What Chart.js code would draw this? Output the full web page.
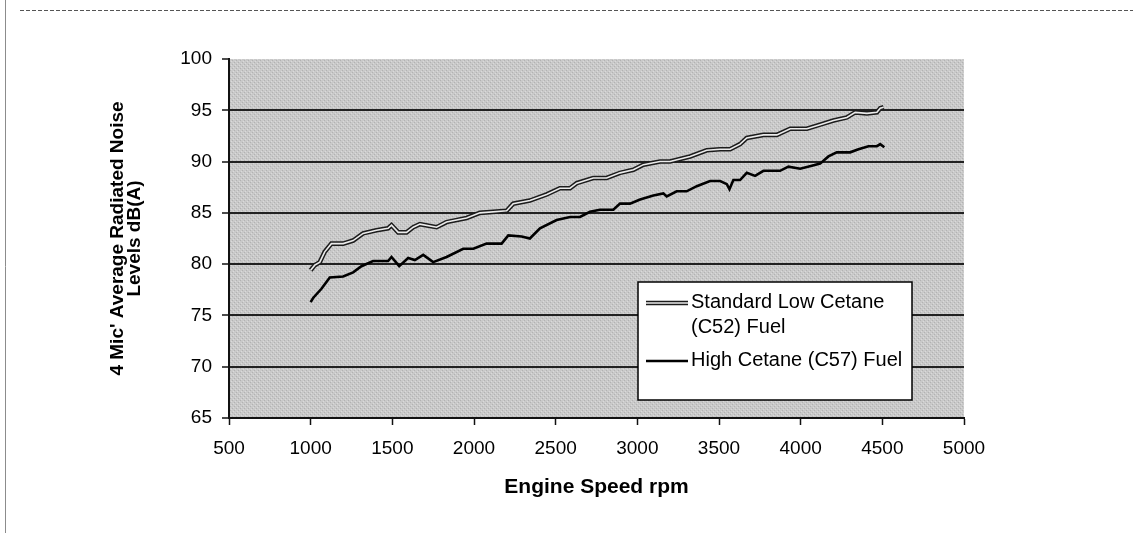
<!DOCTYPE html>
<html>
<head>
<meta charset="utf-8">
<script src="https://cdn.jsdelivr.net/npm/chart.js@4.4.1/dist/chart.umd.min.js"></script>
<style>
    html, body { margin: 0; padding: 0; background: #fff; }
    #wrap { position: relative; width: 1133px; height: 533px; }
</style>
</head>
<body>
<div id="wrap"><canvas id="graficoRuido" width="1133" height="533"></canvas></div>
<script>
// Standard Low Cetane (C52) Fuel
const rpmLowCetane = [1000, 1025, 1056, 1086, 1127, 1199, 1260, 1321, 1403, 1474, 1495, 1536, 1587, 1628, 1669, 1771, 1832, 1955, 2036, 2200,
    2240, 2342, 2445, 2526, 2588, 2629, 2730, 2812, 2894, 2976, 3037, 3139, 3200, 3323, 3425, 3507, 3568, 3629, 3670, 3772,
    3854, 3936, 4038, 4119, 4201, 4283, 4334, 4406, 4467, 4487, 4508];
const noiseLowCetane = [79.4, 79.9, 80.2, 81.2, 82.0, 82.0, 82.3, 83.0, 83.3, 83.5, 83.8, 83.1, 83.1, 83.6, 83.9, 83.6, 84.1, 84.5, 85.0, 85.2,
    85.9, 86.2, 86.8, 87.4, 87.4, 87.9, 88.4, 88.4, 88.9, 89.2, 89.7, 90.0, 90.0, 90.5, 91.1, 91.2, 91.2, 91.7, 92.3, 92.6,
    92.6, 93.2, 93.2, 93.6, 94.0, 94.3, 94.8, 94.7, 94.8, 95.2, 95.3];

// High Cetane (C57) Fuel
const rpmHighCetane = [1000, 1015, 1066, 1117, 1199, 1260, 1311, 1382, 1474, 1495, 1542, 1597, 1638, 1689, 1750, 1832, 1934, 1996, 2077, 2169,
    2210, 2292, 2342, 2404, 2506, 2588, 2649, 2710, 2771, 2853, 2894, 2955, 3017, 3098, 3159, 3180, 3241, 3302, 3364, 3445,
    3507, 3548, 3564, 3588, 3629, 3670, 3721, 3772, 3874, 3925, 3997, 4068, 4119, 4170, 4221, 4303, 4354, 4415, 4467, 4487, 4512];
const noiseHighCetane = [76.3, 76.7, 77.6, 78.7, 78.8, 79.2, 79.8, 80.3, 80.3, 80.7, 79.8, 80.6, 80.4, 80.9, 80.2, 80.7, 81.5, 81.5, 82.0, 82.0,
    82.8, 82.7, 82.5, 83.5, 84.3, 84.6, 84.6, 85.1, 85.3, 85.3, 85.9, 85.9, 86.3, 86.7, 86.9, 86.6, 87.1, 87.1, 87.6, 88.1,
    88.1, 87.8, 87.3, 88.2, 88.2, 88.9, 88.6, 89.1, 89.1, 89.5, 89.3, 89.6, 89.8, 90.5, 90.9, 90.9, 91.2, 91.5, 91.5, 91.7, 91.4];

// Axis ranges / ticks
const xRange = [500, 5000];
const xStep = 500;
const yRange = [65, 100];
const yStep = 5;

const xTitle = 'Engine Speed rpm';
const yTitle = ["4 Mic' Average Radiated Noise", 'Levels dB(A)'];
const legendLow = ['Standard Low Cetane', '(C52) Fuel'];
const legendHigh = 'High Cetane (C57) Fuel';

const FONT = '"Liberation Sans", Arial, sans-serif';

function toPoints(xs, ys) {
    return xs.map((x, i) => ({ x: x, y: ys[i] }));
}

// grey stippled plot background, like the old spreadsheet fill
function stipple(ctx) {
    const c = document.createElement('canvas');
    c.width = 4;
    c.height = 4;
    const p = c.getContext('2d');
    p.fillStyle = '#c9c9c9';
    p.fillRect(0, 0, 4, 4);
    p.fillStyle = '#b2b2b2';
    p.fillRect(0, 0, 1, 1);
    p.fillRect(2, 2, 1, 1);
    p.fillStyle = '#dadada';
    p.fillRect(1, 3, 1, 1);
    p.fillRect(3, 1, 1, 1);
    return ctx.createPattern(c, 'repeat');
}

const plotBackground = {
    id: 'plotBackground',
    beforeDraw(chart) {
        const { ctx, chartArea: a } = chart;
        ctx.save();
        ctx.fillStyle = stipple(ctx);
        ctx.fillRect(a.left, a.top, a.right - a.left, a.bottom - a.top);
        ctx.restore();
    }
};

// page frame: dashed line on top, solid line on the left
const pageFrame = {
    id: 'pageFrame',
    afterDraw(chart) {
        const ctx = chart.ctx;
        ctx.save();
        ctx.strokeStyle = '#8c8c8c';
        ctx.lineWidth = 1;
        ctx.beginPath();
        ctx.moveTo(5.5, 0);
        ctx.lineTo(5.5, 533);
        ctx.stroke();
        ctx.strokeStyle = '#555';
        ctx.setLineDash([4, 2]);
        ctx.beginPath();
        ctx.moveTo(20, 10.5);
        ctx.lineTo(1133, 10.5);
        ctx.stroke();
        ctx.restore();
    }
};

// legend box drawn inside the plot
const legendBox = {
    id: 'legendBox',
    afterDraw(chart) {
        const ctx = chart.ctx;
        const box = { x: 638, y: 282, w: 274, h: 118 };
        ctx.save();
        ctx.fillStyle = '#fff';
        ctx.fillRect(box.x, box.y, box.w, box.h);
        ctx.strokeStyle = '#000';
        ctx.lineWidth = 1.5;
        ctx.strokeRect(box.x, box.y, box.w, box.h);

        // double line sample
        ctx.lineCap = 'butt';
        ctx.strokeStyle = '#1c1c1c';
        ctx.lineWidth = 4.6;
        ctx.beginPath();
        ctx.moveTo(646, 303);
        ctx.lineTo(688, 303);
        ctx.stroke();
        ctx.strokeStyle = '#ececec';
        ctx.lineWidth = 1.6;
        ctx.beginPath();
        ctx.moveTo(646, 303);
        ctx.lineTo(688, 303);
        ctx.stroke();

        // solid line sample
        ctx.strokeStyle = '#000';
        ctx.lineWidth = 2.6;
        ctx.beginPath();
        ctx.moveTo(646, 361);
        ctx.lineTo(688, 361);
        ctx.stroke();

        ctx.fillStyle = '#000';
        ctx.font = '20px ' + FONT;
        ctx.textAlign = 'left';
        ctx.textBaseline = 'alphabetic';
        ctx.fillText(legendLow[0], 691, 308);
        ctx.fillText(legendLow[1], 691, 333);
        ctx.fillText(legendHigh, 691, 366);
        ctx.restore();
    }
};

const ctx = document.getElementById('graficoRuido').getContext('2d');

const graficoRuido = new Chart(ctx, {
    type: 'line',
    data: {
        datasets: [
            {
                label: legendLow.join(' '),
                data: toPoints(rpmLowCetane, noiseLowCetane),
                borderColor: '#ececec',
                borderWidth: 1.6,
                order: 0
            },
            {
                label: legendLow.join(' ') + ' (edge)',
                data: toPoints(rpmLowCetane, noiseLowCetane),
                borderColor: '#1c1c1c',
                borderWidth: 4.6,
                order: 1
            },
            {
                label: legendHigh,
                data: toPoints(rpmHighCetane, noiseHighCetane),
                borderColor: '#000',
                borderWidth: 2.6,
                order: 2
            }
        ]
    },
    options: {
        responsive: false,
        animation: false,
        parsing: false,
        layout: { padding: { left: 100, right: 169, top: 59, bottom: 30 } },
        elements: {
            point: { radius: 0 },
            line: { tension: 0, fill: false, borderJoinStyle: 'miter' }
        },
        plugins: {
            legend: { display: false },
            tooltip: { enabled: false }
        },
        scales: {
            x: {
                type: 'linear',
                min: xRange[0],
                max: xRange[1],
                afterFit: (s) => { s.height = 85; },
                ticks: {
                    stepSize: xStep,
                    color: '#000',
                    padding: 12,
                    maxRotation: 0,
                    callback: (v) => String(v),
                    font: { family: FONT, size: 19 }
                },
                grid: {
                    drawOnChartArea: false,
                    drawTicks: true,
                    tickLength: 7,
                    tickColor: '#111',
                    tickWidth: 1.5
                },
                border: { color: '#111', width: 2 },
                title: {
                    display: true,
                    text: xTitle,
                    color: '#000',
                    padding: { top: 0, bottom: 3 },
                    font: { family: FONT, size: 21, weight: 'bold' }
                }
            },
            y: {
                min: yRange[0],
                max: yRange[1],
                afterFit: (s) => { s.width = 129; },
                ticks: {
                    stepSize: yStep,
                    color: '#000',
                    padding: 10,
                    callback: (v) => String(v),
                    font: { family: FONT, size: 19 }
                },
                grid: {
                    color: (c) => (c.tick && c.tick.value === yRange[1]) ? 'rgba(0,0,0,0)' : '#222',
                    lineWidth: 2,
                    drawTicks: true,
                    tickLength: 7,
                    tickColor: '#111',
                    tickWidth: 1.5
                },
                border: { color: '#111', width: 2 },
                title: {
                    display: true,
                    text: yTitle,
                    color: '#000',
                    padding: { top: 9, bottom: 0 },
                    font: { family: FONT, size: 19, weight: 'bold', lineHeight: '17px' }
                }
            }
        }
    },
    plugins: [plotBackground, legendBox, pageFrame]
});
</script>
</body>
</html>
